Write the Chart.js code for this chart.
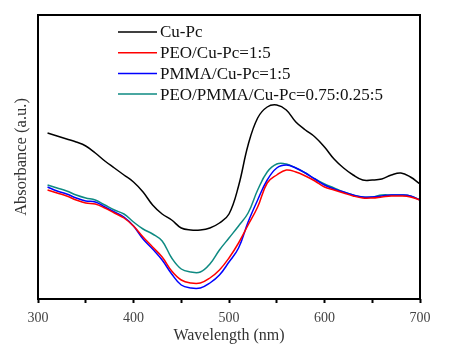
<!DOCTYPE html>
<html>
<head>
<meta charset="utf-8">
<script src="https://cdn.jsdelivr.net/npm/chart.js@4"></script>
<style>
  html, body { margin: 0; padding: 0; background: #fff; }
  #wrap { width: 452px; height: 352px; }
</style>
</head>
<body>
<div id="wrap"><canvas id="chart" width="452" height="352"></canvas></div>
<script>
// wavelength grid (nm)
const wavelengths = [310, 320, 330, 340, 350, 360, 370, 380, 390, 400, 410, 420, 430, 440, 450, 460, 470, 480, 490, 500,
  510, 520, 530, 540, 550, 560, 570, 580, 590, 600, 610, 620, 630, 640, 650, 660, 670, 680, 690, 700];

const seriesNames = ['Cu-Pc', 'PEO/Cu-Pc=1:5', 'PMMA/Cu-Pc=1:5', 'PEO/PMMA/Cu-Pc=0.75:0.25:5'];

// absorbance, arbitrary units
const cuPc = [1.66, 1.63, 1.60, 1.57, 1.53, 1.46, 1.38, 1.31, 1.24, 1.17, 1.07, 0.94, 0.85, 0.79, 0.71, 0.69, 0.69, 0.71, 0.76, 0.85,
  1.13, 1.54, 1.81, 1.92, 1.94, 1.89, 1.77, 1.69, 1.62, 1.52, 1.40, 1.31, 1.24, 1.19, 1.19, 1.20, 1.24, 1.26, 1.22, 1.15];
const peoCuPc = [1.09, 1.06, 1.03, 0.99, 0.96, 0.95, 0.91, 0.86, 0.81, 0.73, 0.62, 0.52, 0.42, 0.28, 0.19, 0.16, 0.16, 0.21, 0.29, 0.41,
  0.56, 0.74, 0.92, 1.16, 1.24, 1.29, 1.27, 1.23, 1.18, 1.12, 1.09, 1.06, 1.03, 1.01, 1.01, 1.02, 1.03, 1.03, 1.02, 0.99];
const pmmaCuPc = [1.12, 1.08, 1.05, 1.01, 0.98, 0.97, 0.92, 0.87, 0.82, 0.73, 0.60, 0.50, 0.39, 0.25, 0.14, 0.11, 0.11, 0.16, 0.24, 0.37,
  0.51, 0.77, 0.99, 1.19, 1.31, 1.34, 1.31, 1.26, 1.20, 1.14, 1.10, 1.07, 1.04, 1.02, 1.02, 1.03, 1.04, 1.04, 1.03, 0.99];
const blendCuPc = [1.14, 1.11, 1.08, 1.04, 1.01, 0.99, 0.94, 0.89, 0.85, 0.77, 0.70, 0.65, 0.58, 0.41, 0.30, 0.27, 0.27, 0.35, 0.49, 0.61,
  0.73, 0.86, 1.09, 1.27, 1.35, 1.35, 1.31, 1.26, 1.20, 1.15, 1.11, 1.07, 1.04, 1.02, 1.02, 1.04, 1.04, 1.04, 1.03, 0.99];

const xTicks = [300, 400, 500, 600, 700];
const colors = ['#000000', '#ff0000', '#0000ff', '#0e8a82'];
const allSeries = [cuPc, peoCuPc, pmmaCuPc, blendCuPc];

const serif = '"Liberation Serif", "Times New Roman", serif';

const toPoints = (vals) => vals.map((v, i) => ({ x: wavelengths[i], y: v }));

// frame around plot + legend inside
const framePlugin = {
  id: 'frame',
  afterDraw(chart) {
    const { ctx, chartArea: a } = chart;
    ctx.save();
    ctx.strokeStyle = '#000';
    ctx.lineWidth = 2;
    ctx.strokeRect(a.left, a.top, a.right - a.left, a.bottom - a.top);

    ctx.font = '17px ' + serif;
    ctx.textBaseline = 'middle';
    ctx.fillStyle = '#111';
    chart.data.datasets.forEach((ds, i) => {
      const y = a.top + 17 + i * 20.7;
      ctx.strokeStyle = ds.borderColor;
      ctx.lineWidth = 1.5;
      ctx.beginPath();
      ctx.moveTo(a.left + 80, y);
      ctx.lineTo(a.left + 119, y);
      ctx.stroke();
      ctx.fillText(ds.label, a.left + 122, y + 1);
    });
    ctx.restore();
  }
};

new Chart(document.getElementById('chart'), {
  type: 'line',
  data: {
    datasets: seriesNames.map((name, i) => ({
      label: name,
      data: toPoints(allSeries[i]),
      borderColor: colors[i],
      borderWidth: 1.5,
      pointRadius: 0,
      tension: 0.4,
      fill: false
    }))
  },
  options: {
    responsive: false,
    animation: false,
    layout: { padding: { top: 15, right: 32, left: 0, bottom: 0 } },
    plugins: {
      legend: { display: false },
      tooltip: { enabled: false }
    },
    scales: {
      x: {
        type: 'linear',
        min: 300,
        max: 700,
        afterFit(scale) { scale.height = 53; },
        afterBuildTicks(scale) {
          const t = [];
          for (let v = 300; v <= 700; v += 50) t.push({ value: v });
          scale.ticks = t;
        },
        ticks: {
          autoSkip: false,
          maxRotation: 0,
          padding: 7,
          color: '#444',
          font: { family: serif, size: 14 },
          callback: (v) => (xTicks.includes(v) ? String(v) : '')
        },
        grid: {
          drawOnChartArea: false,
          drawTicks: true,
          tickLength: 4,
          tickWidth: 2,
          tickColor: '#000'
        },
        border: { display: false },
        title: {
          display: true,
          text: 'Wavelength (nm)',
          color: '#333',
          font: { family: serif, size: 16 },
          padding: { top: 0, bottom: 7 }
        }
      },
      y: {
        min: 0,
        max: 2.84,
        afterFit(scale) { scale.width = 38; },
        ticks: { display: false },
        grid: { display: false },
        border: { display: false },
        title: {
          display: true,
          text: 'Absorbance (a.u.)',
          color: '#333',
          font: { family: serif, size: 16.5 },
          padding: { top: 12, bottom: 0 }
        }
      }
    }
  },
  plugins: [framePlugin]
});
</script>
</body>
</html>
